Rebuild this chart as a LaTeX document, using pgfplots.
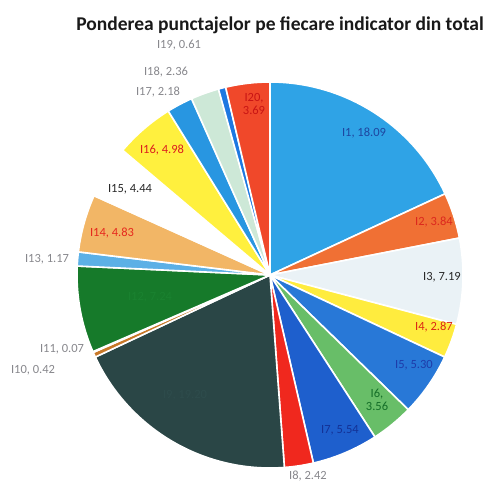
\documentclass[border=0pt]{standalone}
\usepackage{pgfplots}
\pgfplotsset{compat=1.18}
\usepackage{pgfplotstable}
\usepackage{fontspec}
\setmainfont{Carlito}

% slice fills
\definecolor{s1}{RGB}{47,163,230}
\definecolor{s2}{RGB}{240,112,52}
\definecolor{s3}{RGB}{234,242,246}
\definecolor{s4}{RGB}{255,236,62}
\definecolor{s5}{RGB}{40,120,215}
\definecolor{s6}{RGB}{104,190,104}
\definecolor{s7}{RGB}{30,95,205}
\definecolor{s8}{RGB}{240,40,30}
\definecolor{s9}{RGB}{42,70,70}
\definecolor{s10}{RGB}{200,120,40}
\definecolor{s11}{RGB}{90,60,40}
\definecolor{s12}{RGB}{22,122,42}
\definecolor{s13}{RGB}{92,176,230}
\definecolor{s14}{RGB}{242,182,102}
\definecolor{s15}{RGB}{255,255,255}
\definecolor{s16}{RGB}{255,240,62}
\definecolor{s17}{RGB}{40,150,225}
\definecolor{s18}{RGB}{205,232,215}
\definecolor{s19}{RGB}{30,120,225}
\definecolor{s20}{RGB}{240,72,42}
% label colours
\definecolor{t1}{RGB}{30,70,160}
\definecolor{t2}{RGB}{220,40,30}
\definecolor{t3}{RGB}{40,40,40}
\definecolor{t4}{RGB}{220,40,20}
\definecolor{t5}{RGB}{30,60,170}
\definecolor{t6}{RGB}{20,110,40}
\definecolor{t7}{RGB}{20,50,150}
\definecolor{t8}{RGB}{135,135,140}
\definecolor{t9}{RGB}{46,76,76}
\definecolor{t10}{RGB}{135,135,140}
\definecolor{t11}{RGB}{135,135,140}
\definecolor{t12}{RGB}{26,130,48}
\definecolor{t13}{RGB}{135,135,140}
\definecolor{t14}{RGB}{230,40,30}
\definecolor{t15}{RGB}{40,40,40}
\definecolor{t16}{RGB}{220,30,30}
\definecolor{t17}{RGB}{135,135,140}
\definecolor{t18}{RGB}{135,135,140}
\definecolor{t19}{RGB}{135,135,140}
\definecolor{t20}{RGB}{200,20,20}

\pgfplotstableread{
id value lx ly split
1 18.09 364 133 0
2 3.84 434 222 0
3 7.19 442 277 0
4 2.87 434 327 0
5 5.30 414 365 0
6 3.56 377 400 1
7 5.54 340 430 0
8 2.42 308 476 0
9 19.20 185 395 0
10 0.42 33 370 0
11 0.07 62 349 0
12 7.24 150 297 0
13 1.17 47 259 0
14 4.83 112 233 0
15 4.44 130 189 0
16 4.98 162 150 0
17 2.18 158 92 0
18 2.36 166 72 0
19 0.61 179 45 0
20 3.69 254 104 1
}\piedata

\begin{document}
\begin{tikzpicture}
\begin{axis}[hide axis, scale only axis, width=489pt, height=482pt,
  xmin=0, xmax=489, ymin=0, ymax=482, clip=false]
\addplot[draw=none] coordinates {(270,207)};
\pgfplotsextra{
  \xdef\cum{0}
  \foreach \i in {0,...,19}{
    \pgfplotstablegetelem{\i}{value}\of\piedata \let\v\pgfplotsretval
    \pgfmathsetmacro\a{90-3.6*\cum}
    \pgfmathsetmacro\b{90-3.6*(\cum+\v)}
    \pgfmathtruncatemacro\k{\i+1}
    \fill[color=s\k, draw=white, line width=1.6pt]
      (axis cs:270,207) -- ++(\a:193pt) arc[start angle=\a, end angle=\b, radius=193pt] -- cycle;
    \pgfmathsetmacro\nc{\cum+\v}
    \xdef\cum{\nc}
  }
  \foreach \i in {0,...,19}{
    \pgfplotstablegetelem{\i}{value}\of\piedata \let\v\pgfplotsretval
    \pgfplotstablegetelem{\i}{lx}\of\piedata \let\lx\pgfplotsretval
    \pgfplotstablegetelem{\i}{ly}\of\piedata \let\ly\pgfplotsretval
    \pgfplotstablegetelem{\i}{split}\of\piedata \let\sp\pgfplotsretval
    \pgfmathsetmacro\yy{482-\ly}
    \pgfmathtruncatemacro\k{\i+1}
    \ifnum\sp=1
      \node[text=t\k, align=center, font={\fontsize{12.5}{13.5}\selectfont}, inner sep=0pt]
        at (axis cs:\lx,\yy) {I\k,\\\v};
    \else
      \node[text=t\k, font={\fontsize{12.5}{13.5}\selectfont}, inner sep=0pt]
        at (axis cs:\lx,\yy) {I\k, \v};
    \fi
  }
  \node[font={\fontsize{19.5}{22}\selectfont\bfseries}, text=black!90]
    at (axis cs:280,457) {Ponderea punctajelor pe fiecare indicator din total};
}
\end{axis}
\pgfresetboundingbox
\path (0,0) rectangle (489pt,482pt);
\end{tikzpicture}
\end{document}
